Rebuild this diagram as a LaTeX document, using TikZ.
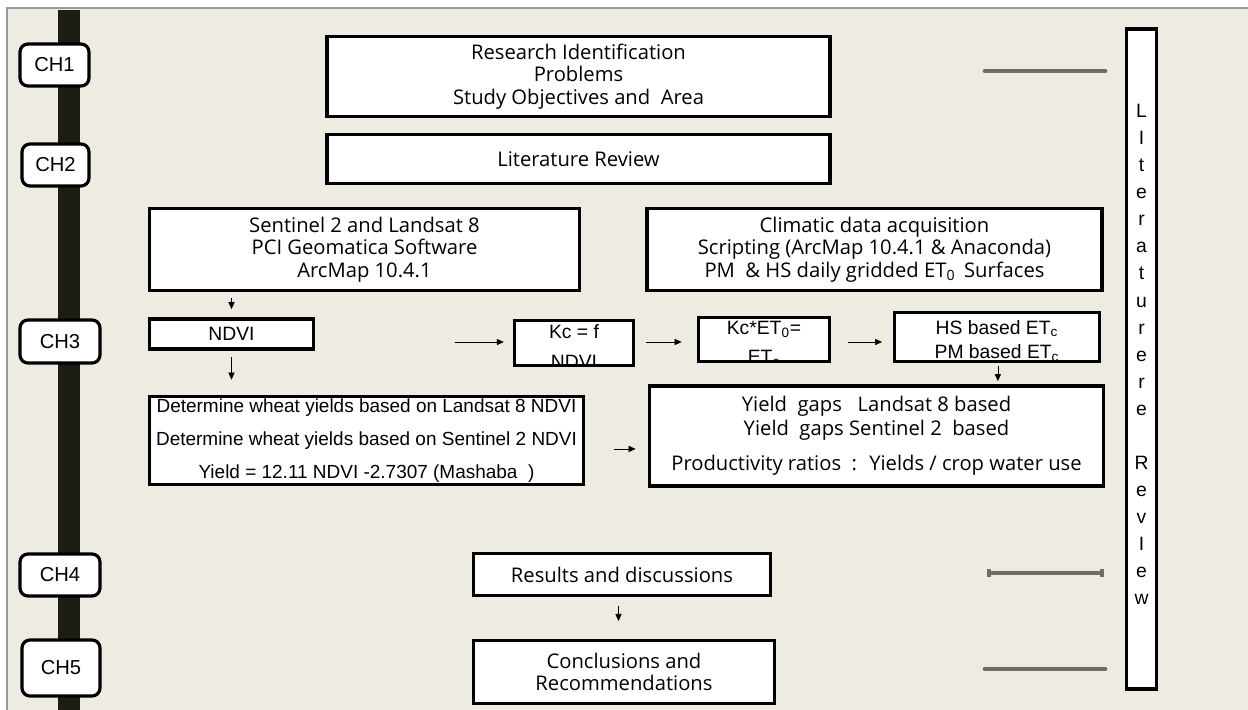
\documentclass[tikz,border=0pt]{standalone}
\usepackage{fontspec}
\setmainfont{Liberation Sans}
\newfontfamily\gothic{Open Sans}
\usetikzlibrary{arrows.meta}
\definecolor{paper}{HTML}{EEEBE3}
\definecolor{spine}{HTML}{1D1D15}
\definecolor{rulegrey}{HTML}{6E6E66}
\definecolor{framegrey}{HTML}{9A9A9A}
\tikzset{
    box/.style={draw, line width=2.2pt, fill=white, inner sep=0pt, align=center},
    gothic box/.style={box, font=\gothic\fontsize{11.5}{12.8}\selectfont},
    chapter tag/.style={draw, line width=1.8pt, fill=white, rounded corners=4.5pt, inner sep=0pt, font=\fontsize{11.5}{12}\selectfont},
    clipped/.style 2 args={path picture={\node[anchor=north, align=center, inner sep=0pt, font=\fontsize{11}{#1}\selectfont] (clip text) at ([yshift=-1pt]path picture bounding box.north) {#2};}},
    flow arr/.style={-{Triangle[length=4pt,width=3.5pt]}, thin},
    side rule/.style={rulegrey, line width=2.8pt, line cap=round},
}
\tikzstyle{every node}=[font=\fontsize{11}{12.8}\selectfont]

\begin{document}
\begin{tikzpicture}[x=0.02cm, y=-0.02cm]
    \useasboundingbox (0,0) rectangle (1248,710);
    % paper and timeline
    \fill[white] (0,0) rectangle (1248,710);
    \fill[paper] (7,8) rectangle (1248,710);
    \draw[framegrey, line width=1.2pt] (7,710) -- (7,8) -- (1248,8);
    \fill[spine] (58,10) rectangle (80,710);

    % chapters
    \node[chapter tag, minimum width=1.38cm, minimum height=0.84cm] (ch1) at (54.5,65) {CH1};
    \node[chapter tag, minimum width=1.34cm, minimum height=0.84cm] (ch2) at (55.5,165) {CH2};
    \node[chapter tag, minimum width=1.6cm, minimum height=0.86cm] (ch3) at (60,341.5) {CH3};
    \node[chapter tag, minimum width=1.6cm, minimum height=0.84cm] (ch4) at (60,575) {CH4};
    \node[chapter tag, minimum width=1.56cm, minimum height=1.12cm] (ch5) at (61,668) {CH5};

    % boxes
    \node[gothic box, minimum width=10.06cm, minimum height=1.6cm] (research) at (578.5,76.5)
        {Research Identification\\Problems\\Study Objectives and \ Area};
    \node[gothic box, minimum width=10.06cm, minimum height=0.98cm] (litrev) at (578.5,159) {Literature Review};
    \node[gothic box, minimum width=8.6cm, minimum height=1.64cm] (sentinel) at (364.5,249.5)
        {Sentinel 2 and Landsat 8\\PCI Geomatica Software\\ArcMap 10.4.1};
    \node[gothic box, minimum width=9.1cm, minimum height=1.64cm] (climatic) at (874.5,249.5)
        {Climatic data acquisition\\Scripting (ArcMap 10.4.1 \& Anaconda)\\PM \ \& HS daily gridded ET\textsubscript{0} \,Surfaces};
    \node[box, minimum width=3.28cm, minimum height=0.6cm] (ndvi) at (231.5,334) {NDVI};
    \node[box, minimum width=2.38cm, minimum height=0.9cm, clipped={17}{Kc = f\\NDVI}] (kc) at (574,343) {};
    \node[box, minimum width=2.62cm, minimum height=0.88cm, clipped={16.5}{Kc*ET\textsubscript{0}=\\ET\textsubscript{c}}] (kcet) at (764,339.5) {};
    \node[box, minimum width=4.1cm, minimum height=0.98cm, clipped={13.8}{HS based ET\textsubscript{c}\\PM based ET\textsubscript{c}}] (hs) at (997,337) {};
    \node[box, minimum width=8.68cm, minimum height=1.76cm, font=\fontsize{10.8}{12.8}\selectfont] (yields) at (366.5,440.5)
        {Determine wheat yields based on Landsat 8 NDVI\\[6.2pt]Determine wheat yields based on Sentinel 2 NDVI\\[6.2pt]Yield = 12.11 NDVI -2.7307 (Mashaba \ )};
    \node[gothic box, minimum width=9.08cm, minimum height=2.0cm, font=\gothic\fontsize{11.5}{13.6}\selectfont] (gaps) at (876.5,436)
        {Yield \ gaps \ \ Landsat 8 based\\Yield \ gaps Sentinel 2 \ based\\[6.5pt]Productivity ratios \ : \ Yields / crop water use};
    \node[gothic box, minimum width=5.94cm, minimum height=0.84cm] (results) at (622,574.5) {Results and discussions};
    \node[gothic box, minimum width=6.02cm, minimum height=1.26cm] (concl) at (624,672) {Conclusions and\\Recommendations};
    \node[box, minimum width=0.6cm, minimum height=13.2cm, anchor=north] (litside) at (1141.5,27) {};
    \node[anchor=north, align=center, inner sep=0pt, font=\fontsize{11}{15.4}\selectfont] (litside text) at (1141.5,104)
        {L\\I\\t\\e\\r\\a\\t\\u\\r\\e\\r\\e\\[15.4pt]R\\e\\v\\I\\e\\w};

    % arrows
    \coordinate (kc in) at (455,342);
    \draw[flow arr] ([yshift=-3.4pt]sentinel.south -| ndvi.north) -- ([yshift=4.5pt]ndvi.north);
    \draw[flow arr, shorten <=3.4pt, shorten >=8.5pt] (ndvi.south) -- (ndvi.south |- yields.north);
    \draw[flow arr, shorten >=5pt] (kc in) -- (kc in -| kc.west);
    \draw[flow arr, shorten <=6pt, shorten >=8.5pt] (kc.east |- kc in) -- (kc in -| kcet.west);
    \draw[flow arr, shorten <=9.6pt, shorten >=6pt] (kc in -| kcet.east) -- (kc in -| hs.west);
    \draw[flow arr, shorten <=1.7pt, shorten >=1.7pt] ([xshift=0.5pt]hs.south) -- ([xshift=0.5pt]hs.south |- gaps.north);
    \draw[flow arr, shorten <=16.4pt, shorten >=6.8pt] ([yshift=-4.8pt]yields.east) -- ([yshift=-4.8pt]yields.east -| gaps.west);
    \draw[flow arr, shorten <=5pt, shorten >=10pt] ([xshift=-2pt]results.south) -- ([xshift=-2pt]results.south |- concl.north);

    % side rules
    \draw[side rule] (985,71) -- (1105,71);
    \draw[rulegrey, line width=2.2pt, {Bar[width=4.5pt,length=0pt]}-{Bar[width=4.5pt,length=0pt]}] (987,573) -- (1104,573);
    \draw[side rule] (985,669) -- (1105,669);
\end{tikzpicture}
\end{document}
